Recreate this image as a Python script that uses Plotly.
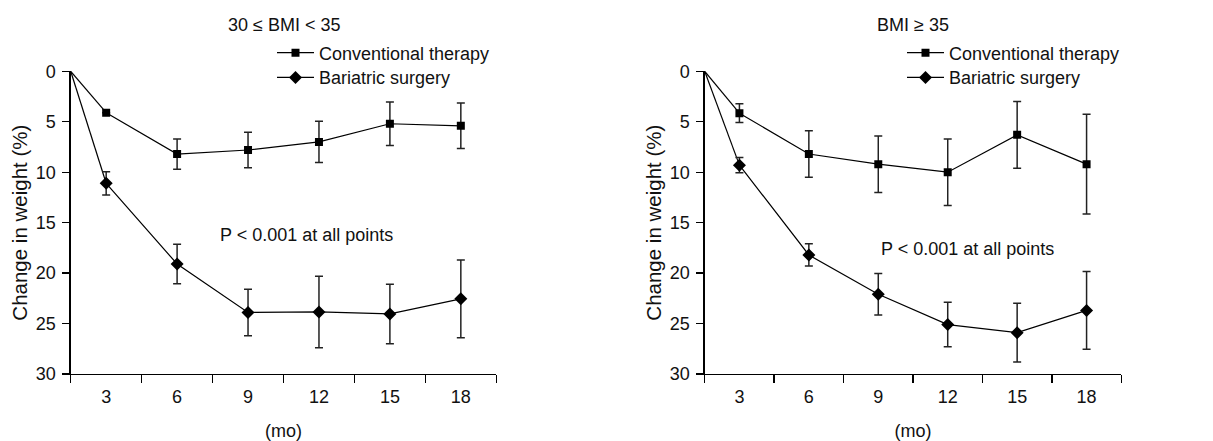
import plotly.graph_objects as go

# ---------------- data ----------------
months = [0, 3, 6, 9, 12, 15, 18]
tick_labels = ["3", "6", "9", "12", "15", "18"]

# panel 1: 30 <= BMI < 35
p1_conv = [0, 4.1, 8.2, 7.8, 7.0, 5.2, 5.4]
p1_conv_err = [0, 0, 1.5, 1.75, 2.05, 2.15, 2.25]
p1_bari = [0, 11.1, 19.1, 23.9, 23.85, 24.05, 22.55]
p1_bari_err = [0, 1.15, 1.95, 2.3, 3.55, 2.95, 3.85]

# panel 2: BMI >= 35
p2_conv = [0, 4.15, 8.2, 9.2, 10.0, 6.3, 9.2]
p2_conv_err = [0, 0.93, 2.3, 2.8, 3.3, 3.3, 4.95]
p2_bari = [0, 9.3, 18.2, 22.1, 25.1, 25.9, 23.7]
p2_bari_err = [0, 0.75, 1.1, 2.05, 2.2, 2.9, 3.85]

titles = ["30 \u2264 BMI < 35", "BMI \u2265 35"]
series_names = ["Conventional therapy", "Bariatric surgery"]
annotation_text = "P < 0.001 at all points"
ytitle = "Change in weight (%)"
xtitle = "(mo)"

# ---------------- layout constants ----------------
W, H = 1213, 441
FONT = "Liberation Sans, Arial, sans-serif"
FS = 18
X_START, X_END = 1.5, 19.5   # axis spans half a step before 3 to half after 18

def px_x(p):
    return p / W

def px_y(p):
    return 1 - p / H

domains_x = [(70.7, 496.3), (704.7, 1121.3)]
domain_y = (px_y(374), px_y(71.3))
legend_x = [272, 902]
legend_rows_y = [53, 77.7]

fig = go.Figure()

panels = [
    (p1_conv, p1_conv_err, p1_bari, p1_bari_err),
    (p2_conv, p2_conv_err, p2_bari, p2_bari_err),
]
symbols = ["square", "diamond"]
msizes = [8, 10]

x_plot = [max(m, X_START) for m in months]

legend_layouts = {}
for i, (cv, ce, bv, be) in enumerate(panels):
    xa = "x" if i == 0 else "x2"
    ya = "y" if i == 0 else "y2"
    for j, (vals, errs) in enumerate([(cv, ce), (bv, be)]):
        k = i * 2 + j + 1
        leg = "legend" if k == 1 else f"legend{k}"
        legend_layouts[leg] = dict(
            x=px_x(legend_x[i]), y=px_y(legend_rows_y[j]),
            xanchor="left", yanchor="middle",
            bgcolor="rgba(0,0,0,0)", itemwidth=37,
            font=dict(family=FONT, size=FS, color="#111"))
        # baseline segment (no marker)
        fig.add_trace(go.Scatter(
            x=x_plot[:2], y=vals[:2], mode="lines",
            line=dict(color="black", width=1.2),
            xaxis=xa, yaxis=ya, showlegend=False, hoverinfo="skip"))
        fig.add_trace(go.Scatter(
            x=x_plot[1:], y=vals[1:], mode="lines+markers",
            name=series_names[j],
            line=dict(color="black", width=1.2),
            marker=dict(symbol=symbols[j], size=msizes[j], color="black"),
            error_y=dict(type="data", array=errs[1:], color="#222222",
                         thickness=1.5, width=4),
            xaxis=xa, yaxis=ya, legend=leg, showlegend=True))

axis_common_x = dict(
    range=[X_START, X_END], tickmode="array",
    tickvals=months[1:], ticktext=tick_labels,
    ticks="outside", ticklen=6, tickcolor="rgba(0,0,0,0)",
    showline=True, linecolor="black", linewidth=1.3,
    showgrid=False, zeroline=False, automargin=False,
    minor=dict(tick0=X_START, dtick=3, ticks="outside", ticklen=8,
               tickcolor="black", tickwidth=1.3, showgrid=False),
    tickfont=dict(family=FONT, size=FS, color="#111"),
    title=dict(text=xtitle, font=dict(family=FONT, size=FS, color="#111"),
               standoff=18),
    fixedrange=True,
)
axis_common_y = dict(
    range=[30, 0], tickmode="array", tickvals=[0, 5, 10, 15, 20, 25, 30],
    ticks="outside", ticklen=7, tickcolor="black", tickwidth=1.3,
    showline=True, linecolor="black", linewidth=1.3,
    showgrid=False, zeroline=False, automargin=False,
    tickfont=dict(family=FONT, size=FS, color="#111"),
    ticklabelstandoff=3,
    title=dict(text=ytitle, font=dict(family=FONT, size=20.5, color="#111"),
               standoff=2),
    fixedrange=True,
)

fig.update_layout(
    width=W, height=H,
    margin=dict(l=0, r=0, t=0, b=0, autoexpand=False),
    paper_bgcolor="white", plot_bgcolor="white",
    font=dict(family=FONT, size=FS, color="#111"),
    xaxis=dict(domain=[px_x(domains_x[0][0]), px_x(domains_x[0][1])],
               anchor="y", **axis_common_x),
    yaxis=dict(domain=list(domain_y), anchor="x", **axis_common_y),
    xaxis2=dict(domain=[px_x(domains_x[1][0]), px_x(domains_x[1][1])],
                anchor="y2", **axis_common_x),
    yaxis2=dict(domain=list(domain_y), anchor="x2", **axis_common_y),
    showlegend=True,
    **legend_layouts,
)

# panel titles
for i, t in enumerate(titles):
    cx = (domains_x[i][0] + domains_x[i][1]) / 2
    fig.add_annotation(text=t, x=px_x(cx), y=px_y(25), xref="paper", yref="paper",
                       showarrow=False, xanchor="center", yanchor="middle",
                       font=dict(family=FONT, size=FS, color="#111"))

# p-value annotations
fig.add_annotation(text=annotation_text, x=px_x(218), y=px_y(235), xref="paper",
                   yref="paper", showarrow=False, xanchor="left", yanchor="middle",
                   font=dict(family=FONT, size=FS, color="#111"))
fig.add_annotation(text=annotation_text, x=px_x(879), y=px_y(249), xref="paper",
                   yref="paper", showarrow=False, xanchor="left", yanchor="middle",
                   font=dict(family=FONT, size=FS, color="#111"))

fig.write_html("out.html",
               config={"displayModeBar": False, "staticPlot": True},
               post_script="document.body.style.margin='0';document.body.style.overflow='hidden';")
